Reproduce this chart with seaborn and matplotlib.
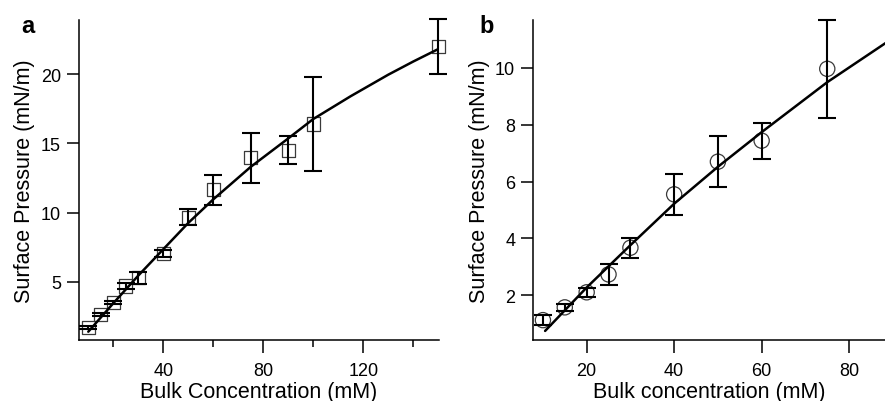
import matplotlib
matplotlib.use("Agg")
import matplotlib.pyplot as plt
import seaborn as sns

# panel a: measured points and error bars
conc_a = [10, 15, 20, 25, 30, 40, 50, 60, 75, 90, 100, 150]
press_a = [1.7, 2.65, 3.5, 4.7, 5.3, 7.05, 9.65, 11.65, 13.95, 14.5, 16.4, 22.0]
err_a = [0.12, 0.12, 0.12, 0.25, 0.43, 0.26, 0.58, 1.08, 1.8, 1.0, 3.4, 2.0]
# panel a: fitted curve
fit_conc_a = [10, 20, 30, 40, 50, 60, 75, 90, 100, 115, 130, 140, 150]
fit_press_a = [1.4, 3.45, 5.45, 7.35, 9.25, 10.95, 13.3, 15.35, 16.75, 18.4, 19.95, 20.9, 21.8]

# panel b
conc_b = [10, 15, 20, 25, 30, 40, 50, 60, 75]
press_b = [1.12, 1.57, 2.1, 2.73, 3.67, 5.55, 6.7, 7.44, 9.97]
err_b = [0.17, 0.12, 0.15, 0.38, 0.35, 0.73, 0.9, 0.63, 1.72]
fit_conc_b = [10.5, 20, 30, 40, 50, 60, 75, 90]
fit_press_b = [0.74, 2.27, 3.76, 5.22, 6.52, 7.74, 9.5, 11.05]

sns.set_style("ticks")
plt.rcParams['font.family'] = ['Liberation Sans', 'DejaVu Sans']
plt.rcParams['axes.linewidth'] = 1.1
plt.rcParams['text.color'] = 'black'
plt.rcParams['axes.labelcolor'] = 'black'

fig = plt.figure(figsize=(8.85, 4.02), dpi=100)
ax_a = fig.add_axes([0.0893, 0.1517, 0.4067, 0.7961])
ax_b = fig.add_axes([0.6026, 0.1517, 0.3974, 0.7961])


def draw_panel(ax, x, y, err, fx, fy, marker, msize):
    sns.scatterplot(x=x, y=y, ax=ax, marker=marker, s=msize, facecolors='none',
                    edgecolors='#3a3a3a', linewidths=0.9, zorder=2, clip_on=False)
    ax.errorbar(x, y, yerr=err, fmt='none', ecolor='black', elinewidth=1.5,
                capsize=6.5, capthick=1.5, zorder=3, clip_on=False)
    sns.lineplot(x=fx, y=fy, ax=ax, color='black', linewidth=1.8, zorder=4)
    sns.despine(ax=ax)
    ax.tick_params(axis='both', which='major', length=9, width=1.1, labelsize=13,
                   color='black', labelcolor='black', pad=4)
    ax.tick_params(axis='x', which='major', pad=7)
    ax.tick_params(axis='both', which='minor', length=5, width=1.1, color='black')
    ax.set_ylabel('Surface Pressure (mN/m)', fontsize=15.5, labelpad=4)
    for sp in ax.spines.values():
        sp.set_color('black')


draw_panel(ax_a, conc_a, press_a, err_a, fit_conc_a, fit_press_a, 's', 92)
ax_a.set_xlim(6.3, 150.3)
ax_a.set_ylim(0.8, 23.9)
ax_a.set_xticks([40, 80, 120])
ax_a.set_xticks([20, 60, 100, 140], minor=True)
ax_a.set_yticks([5, 10, 15, 20])
ax_a.set_xlabel('Bulk Concentration (mM)', fontsize=15.5, labelpad=1.5)

draw_panel(ax_b, conc_b, press_b, err_b, fit_conc_b, fit_press_b, 'o', 120)
ax_b.set_xlim(7.8, 88.2)
ax_b.set_ylim(0.42, 11.69)
ax_b.set_xticks([20, 40, 60, 80])
ax_b.set_yticks([2, 4, 6, 8, 10])
ax_b.set_xlabel('Bulk concentration (mM)', fontsize=15.5, labelpad=1.5)

fig.text(28 / 885, 1 - 33 / 402, 'a', fontsize=17, fontweight='bold', ha='center', va='baseline')
fig.text(487 / 885, 1 - 33 / 402, 'b', fontsize=17, fontweight='bold', ha='center', va='baseline')

fig.savefig('out.png', dpi=100)
